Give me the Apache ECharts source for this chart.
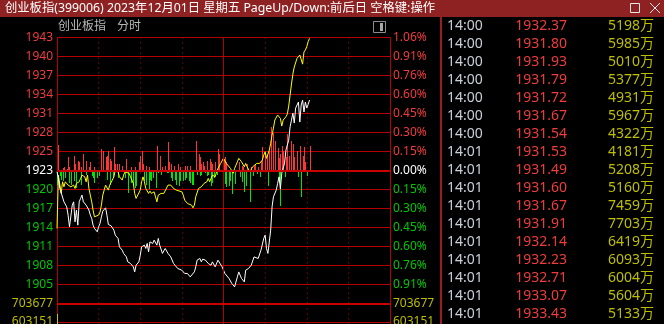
<!DOCTYPE html>
<html><head><meta charset="utf-8">
<script src="https://cdn.jsdelivr.net/npm/echarts@6/dist/echarts.min.js"></script>
<style>html,body{margin:0;padding:0;background:#000;overflow:hidden}#c{width:664px;height:324px}</style>
</head><body><div id="c"></div>
<script>
// ---------- data ----------
const preClose = 1923.30;          // previous close (0.00% line)
const stepPct = 0.1514;            // percent per grid row
const leftLabels  = ['1943','1940','1937','1934','1931','1928','1925','1923','1920','1917','1914','1911','1908','1905'];
const rightLabels = ['1.06%','0.91%','0.76%','0.60%','0.45%','0.30%','0.15%','0.00%','0.15%','0.30%','0.45%','0.60%','0.76%','0.91%'];
const volMax = 703677;
const volLabels = ['703677','603151'];

// minute index (0 = 09:30, 120 = 11:30/13:00, 240 = 15:00)
const whiteMin = [0,1,2,5,7,8,9,11,12,13,14,15,16,17,18,19,20,21,23,24,25,26,27,29,30,31,32,33,35,36,37,39,41,42,44,45,47,48,49,50,51,53,55,56,57,59,60,61,63,64,65,66,67,69,70,72,73,74,76,78,79,80,82,84,85,87,88,90,92,93,94,96,97,99,100,101,103,104,105,107,108,109,111,112,114,116,117,119,120,121,124,126,128,130,131,133,135,136,138,140,142,143,145,147,149,150,151,152,154,155,156,158,159,160,161,162,164,165,167,168,169,170,171,172,174,175,176,177,178,179,180,181,182];
const whiteVal = [1923.10,1922.13,1920.60,1918.50,1917.73,1916.46,1914.67,1917.99,1918.50,1915.43,1917.23,1914.93,1918.50,1919.02,1919.53,1918.50,1918.25,1917.99,1917.23,1916.46,1915.95,1914.93,1914.42,1913.90,1914.67,1915.19,1916.20,1917.07,1917.58,1916.46,1915.03,1914.82,1914.16,1913.39,1912.89,1911.60,1911.09,1910.59,1910.83,1910.06,1909.30,1909.05,1908.53,1907.76,1908.79,1909.30,1910.32,1911.60,1911.86,1911.35,1912.12,1910.83,1912.36,1912.12,1912.63,1911.86,1912.89,1911.86,1910.59,1911.35,1911.60,1910.59,1910.06,1909.05,1909.30,1908.28,1908.53,1908.02,1907.52,1907.26,1907.52,1907.00,1906.75,1907.76,1908.53,1909.56,1909.82,1909.30,1909.71,1909.56,1909.82,1909.05,1908.79,1909.30,1908.53,1909.56,1909.30,1908.53,1908.79,1907.52,1906.75,1905.98,1905.46,1907.00,1907.76,1906.75,1906.23,1908.02,1908.28,1908.79,1910.06,1909.82,1909.82,1911.09,1912.89,1913.39,1911.35,1910.59,1914.16,1917.73,1919.27,1920.29,1921.32,1922.33,1920.50,1922.90,1924.43,1926.43,1927.96,1930.00,1931.03,1932.10,1930.57,1932.87,1933.79,1930.72,1933.33,1934.10,1932.26,1933.79,1932.87,1933.43,1934.10];

const yellowMin = [0,1,3,4,5,6,8,10,12,13,14,16,17,18,20,21,22,23,24,25,26,27,28,30,31,32,33,35,36,37,38,41,42,43,44,45,47,48,49,50,52,53,55,56,57,58,60,61,62,63,64,66,67,68,70,71,72,73,75,76,77,78,80,81,82,84,86,87,90,91,92,93,94,97,98,99,100,102,104,105,106,108,109,110,111,112,114,115,116,117,118,120,121,122,125,127,128,130,131,133,135,136,137,139,141,142,144,146,148,149,150,151,153,154,155,156,157,159,160,161,162,163,164,165,166,167,168,169,170,171,173,174,175,177,178,179,180,181,182];
const yellowVal = [1914.42,1922.60,1919.79,1921.57,1920.80,1921.57,1921.06,1920.80,1921.06,1920.55,1921.32,1921.57,1922.09,1922.59,1922.33,1921.57,1922.59,1920.55,1919.53,1918.50,1917.23,1916.20,1915.95,1916.46,1916.92,1917.99,1919.53,1921.06,1921.32,1920.29,1921.06,1922.33,1923.36,1923.62,1923.10,1922.33,1921.83,1922.59,1923.10,1923.36,1922.86,1922.33,1921.32,1919.79,1919.02,1919.27,1920.29,1921.57,1922.33,1921.57,1920.55,1919.79,1920.14,1919.79,1920.03,1919.27,1918.50,1919.53,1919.79,1919.53,1919.79,1920.03,1921.06,1921.32,1921.06,1920.55,1920.29,1920.03,1920.03,1919.53,1918.76,1918.50,1918.25,1917.99,1917.58,1917.99,1919.27,1920.55,1920.80,1921.06,1921.32,1921.57,1922.09,1921.57,1922.09,1922.59,1922.33,1923.10,1923.62,1923.87,1924.39,1925.20,1924.90,1924.39,1923.62,1922.86,1923.62,1924.63,1925.16,1924.63,1923.87,1924.39,1923.87,1923.10,1923.87,1924.13,1924.39,1924.39,1924.90,1925.66,1926.17,1925.16,1926.43,1927.46,1928.73,1929.80,1931.03,1931.80,1932.06,1931.29,1930.11,1931.03,1931.29,1931.54,1931.95,1933.18,1934.86,1936.55,1938.08,1939.16,1940.49,1940.69,1941.00,1939.60,1941.46,1941.77,1942.27,1943.04,1943.56];

// lead-indicator bars (red above / green below the 0.00% line)
const redMin = [1,4,5,7,8,9,12,13,15,16,17,19,21,23,24,27,32,33,35,36,37,38,39,41,42,43,45,47,50,53,56,59,60,61,62,64,66,72,74,76,78,80,81,82,84,87,89,92,94,96,100,102,103,104,105,106,108,110,111,112,114,116,117,120,121,122,131,133,134,137,140,142,143,145,147,148,150,151,153,154,156,157,159,160,161,162,163,165,166,167,169,170,171,173,175,177,178,179,182];
const redVal = [25.7,2.3,3.3,1.7,13.3,3.3,15,6.7,10,8.3,3.3,16.7,10,3.3,8.3,3.3,21.7,20,13.3,15,20,11.7,10,24,6.7,6.7,6.7,5,11.7,3.3,3.3,8.3,15,20,6.7,5,3.3,25,15,3.3,5,28.3,8.3,6.7,5,6.7,3.3,5,5,5,30,16.7,13.3,6.7,8.3,5,10,11.7,8.3,6.7,8.3,21.7,16.7,11.7,13.3,8.3,8.3,5,3.3,6.7,3.3,5,6.7,3.3,10,23.3,16.7,15,20,44,38,30,23,13,16.7,25,20,13.3,37,15,30,26.7,13.3,20,25,15,23.3,8.3,25];
const greenMin = [0,2,3,4,6,9,10,12,14,17,21,25,26,27,29,30,36,38,40,44,49,51,53,55,56,57,63,64,66,67,68,69,71,73,75,79,80,82,83,85,86,88,89,91,92,93,95,96,97,98,101,103,104,107,108,109,111,112,113,115,121,122,124,125,126,128,132,133,135,136,139,141,144,146,152,160,161,164,174,176,180];
const greenVal = [14,5.7,9,10.7,7.3,12.3,14,10.7,17.3,14,4,5.7,7.3,12.3,7.3,5.7,9,14,7.3,7.3,7.3,22.3,12.3,14,17.3,15.7,10,14,18.3,9,10.7,7.3,17.3,2.3,4,2.3,2.3,7.3,10.7,9,14,15.7,10.7,10.7,9,7.3,10.7,12.3,14,14,4,5.7,4,2.3,5.7,4,15.7,12.3,7.3,4,13.3,16.7,15,10,23.3,13.3,6.7,11.7,21.7,15,31.7,5,3.3,6.7,15,11.7,35,6.7,6.7,26.7,5];

const volMin = [0];
const volVal = [644000];

// tick table (right panel)
const tickTimes  = ['14:00','14:00','14:00','14:00','14:00','14:00','14:00','14:01','14:01','14:01','14:01','14:01','14:01','14:01','14:01','14:01','14:01'];
const tickPrices = ['1932.37','1931.80','1931.93','1931.79','1931.72','1931.67','1931.54','1931.53','1931.49','1931.60','1931.67','1931.91','1932.14','1932.23','1932.71','1933.07','1933.43'];
const tickVols   = ['5198','5985','5010','5377','4931','5967','4322','4181','5208','5160','7459','7703','6419','6093','6004','5604','5133'];

const titleText = '创业板指(399006) 2023年12月01日 星期五 PageUp/Down:前后日 空格键:操作';

// ---------- chart ----------
const RED = '#F03C3C', GRN = '#00C800', GRID = '#B40000', OLIVE = '#BEBE00';
const FONT = '"Noto Sans","Noto Sans CJK SC",sans-serif';
const pMin = preClose * (1 - 7 * stepPct / 100);
const pMax = preClose * (1 + 7 * stepPct / 100);
const volStep = volMax / 7;

const RICH = {
  r: {color: RED, fontSize: 12, fontFamily: FONT},
  w: {color: '#FFFFFF', fontSize: 12, fontFamily: FONT},
  g: {color: GRN, fontSize: 12, fontFamily: FONT},
  y: {color: OLIVE, fontSize: 12, fontFamily: FONT}
};
function priceLbl(v, arr) {
  const idx = Math.round(7 - v);
  if (idx < 0 || idx >= arr.length) return '';
  const s = idx < 7 ? 'r' : (idx === 7 ? 'w' : 'g');
  return '{' + s + '|' + arr[idx] + '}';
}
function volLbl(v) {
  const idx = Math.round((volMax - v) / volStep);
  return (idx >= 0 && idx < volLabels.length) ? '{y|' + volLabels[idx] + '}' : '';
}
function pairs(ms, vs, sign) { return ms.map((m, i) => [m, sign * vs[i]]); }

// crisp 1px vertical bars, positioned through the axes
function barItem(color) {
  return function (params, api) {
    const p0 = api.coord([api.value(0), 0]);
    const p1 = api.coord([api.value(0), api.value(1)]);
    const x = Math.round(p0[0]);
    const y0 = Math.min(p0[1], p1[1]), y1 = Math.max(p0[1], p1[1]);
    return {type: 'rect', shape: {x: x, y: Math.round(y0), width: 1, height: Math.max(1, Math.round(y1) - Math.round(y0))}, style: {fill: color}};
  };
}

const xAx = g => ({
  type: 'value', gridIndex: g, min: 0, max: 240, interval: 30,
  axisLine: {show: false}, axisTick: {show: false}, axisLabel: {show: false},
  splitLine: {show: true, lineStyle: {color: GRID, width: 1, type: [1, 4]}}
});
const yLab = (g, pos, fmt, split, min, max, interval) => ({
  type: 'value', gridIndex: g, position: pos, min: min, max: max, interval: interval,
  axisLine: {show: true, lineStyle: {color: GRID, width: 1}},
  axisTick: {show: false},
  splitLine: {show: split, lineStyle: {color: GRID, width: 1}},
  axisLabel: {show: true, margin: pos === 'left' ? 4 : 3, formatter: fmt, rich: RICH, fontSize: 12, fontFamily: FONT}
});

const tableEls = [];
tickTimes.forEach((t, k) => {
  const y = 26 + 18 * k;
  tableEls.push({type: 'text', silent: true, style: {text: t, x: 447, y: y, fill: '#C8D0D8', font: '14px ' + FONT, align: 'left', verticalAlign: 'middle', textAlign: 'left', textVerticalAlign: 'middle'}});
  tableEls.push({type: 'text', silent: true, style: {text: tickPrices[k], x: 567, y: y, fill: RED, font: '14px ' + FONT, align: 'right', verticalAlign: 'middle', textAlign: 'right', textVerticalAlign: 'middle'}});
  tableEls.push({type: 'text', silent: true, style: {text: tickVols[k] + '万', x: 654, y: y, fill: OLIVE, font: '14px ' + FONT, align: 'right', verticalAlign: 'middle', textAlign: 'right', textVerticalAlign: 'middle'}});
});

const option = {
  backgroundColor: '#000000',
  animation: false,
  grid: [
    {left: 57, top: 37.5, width: 333, height: 266, outerBoundsMode: 'none', containLabel: false},
    {left: 57, top: 303.5, width: 333, height: 128, outerBoundsMode: 'none', containLabel: false}
  ],
  xAxis: [xAx(0), xAx(1)],
  yAxis: [
    yLab(0, 'left', v => priceLbl(v, leftLabels), true, -7, 7, 1),
    yLab(0, 'right', v => priceLbl(v, rightLabels), false, -7, 7, 1),
    {type: 'value', gridIndex: 0, min: pMin, max: pMax, show: false},
    {type: 'value', gridIndex: 0, min: -133, max: 133, show: false},
    yLab(1, 'left', volLbl, true, 0, volMax, volStep),
    yLab(1, 'right', volLbl, false, 0, volMax, volStep)
  ],
  series: [
    {
      type: 'custom', xAxisIndex: 0, yAxisIndex: 3, renderItem: barItem('#FF3434'),
      data: pairs(redMin, redVal, 1), silent: true, z: 2
    },
    {type: 'custom', xAxisIndex: 0, yAxisIndex: 3, renderItem: barItem('#00E600'),
      data: pairs(greenMin, greenVal, -1), silent: true, z: 2},
    {
      type: 'line', xAxisIndex: 0, yAxisIndex: 3, data: [], silent: true, z: 1,
      markLine: {
        silent: true, symbol: 'none', label: {show: false}, animation: false,
        lineStyle: {color: GRID, type: 'solid', width: 1},
        data: [{xAxis: 120}, {yAxis: 0, lineStyle: {color: '#C80000', width: 2, type: 'solid'}}]
      }
    },
    {type: 'line', xAxisIndex: 0, yAxisIndex: 2, data: pairs(yellowMin, yellowVal, 1),
      showSymbol: false, symbol: 'none', lineStyle: {color: '#FFFF00', width: 1}, silent: true, z: 3},
    {type: 'line', xAxisIndex: 0, yAxisIndex: 2, data: pairs(whiteMin, whiteVal, 1),
      showSymbol: false, symbol: 'none', lineStyle: {color: '#FFFFFF', width: 1}, silent: true, z: 4},
    {
      type: 'custom', xAxisIndex: 1, yAxisIndex: 4, renderItem: barItem('#C8C800'), clip: false,
      data: pairs(volMin, volVal, 1), silent: true, z: 2,
      markLine: {
        silent: true, symbol: 'none', label: {show: false}, animation: false,
        lineStyle: {color: GRID, type: 'solid', width: 1},
        data: [{xAxis: 120}, {yAxis: volMax, lineStyle: {color: '#C80000', width: 2, type: 'solid'}}]
      }
    }
  ],
  graphic: [
    {type: 'rect', silent: true, shape: {x: 0, y: 0, width: 664, height: 17}, style: {fill: '#8E2222'}},
    {type: 'rect', silent: true, shape: {x: 440, y: 17, width: 2, height: 307}, style: {fill: '#9A1E1E'}},
    {type: 'text', silent: true, style: {text: titleText, x: 5, y: 8.5, fill: '#FFFFFF', font: '12.3px ' + FONT, align: 'left', verticalAlign: 'middle', textAlign: 'left', textVerticalAlign: 'middle'}},
    {type: 'rect', silent: true, shape: {x: 630.5, y: 3.5, width: 9, height: 9}, style: {fill: 'none', stroke: '#E8E8E8', lineWidth: 1}},
    {type: 'line', silent: true, shape: {x1: 650, y1: 3, x2: 660, y2: 13}, style: {stroke: '#E8E8E8', lineWidth: 1}},
    {type: 'line', silent: true, shape: {x1: 660, y1: 3, x2: 650, y2: 13}, style: {stroke: '#E8E8E8', lineWidth: 1}},
    {type: 'text', silent: true, style: {text: '创业板指', x: 58, y: 27, fill: '#B8B8B8', font: '12px ' + FONT, align: 'left', verticalAlign: 'middle', textAlign: 'left', textVerticalAlign: 'middle'}},
    {type: 'text', silent: true, style: {text: '分时', x: 117, y: 27, fill: '#B8B8B8', font: '12px ' + FONT, align: 'left', verticalAlign: 'middle', textAlign: 'left', textVerticalAlign: 'middle'}},
    {type: 'rect', silent: true, shape: {x: 373.5, y: 21.5, width: 12, height: 11}, style: {fill: 'none', stroke: '#8C8C8C', lineWidth: 1}},
    {type: 'rect', silent: true, shape: {x: 380, y: 23, width: 3, height: 8}, style: {fill: '#A8A8A8'}}
  ].concat(tableEls)
};

const chart = echarts.init(document.getElementById('c'), null, {renderer: 'canvas', width: 664, height: 324});
chart.setOption(option);
</script>
</body></html>
